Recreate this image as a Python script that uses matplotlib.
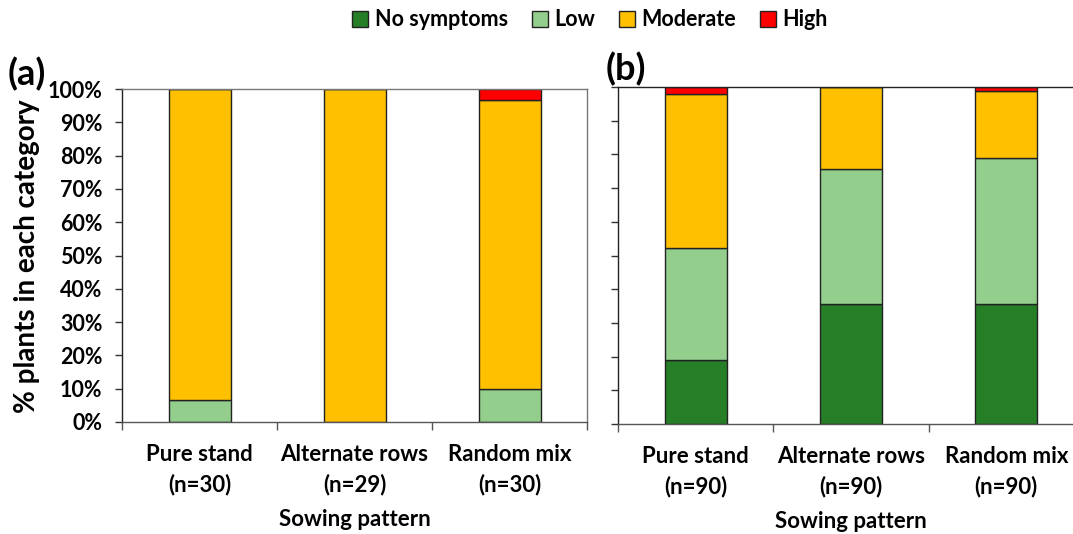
import numpy as np
import matplotlib
matplotlib.use("Agg")
import matplotlib.pyplot as plt
from matplotlib.patches import Patch

plt.rcParams['font.family'] = ['Lato', 'DejaVu Sans']
plt.rcParams['font.weight'] = 'bold'
plt.rcParams['axes.labelweight'] = 'bold'

## data (percent of plants)
categories = ["No symptoms", "Low", "Moderate", "High"]
colors = ["#267F26", "#93CE8C", "#FFC000", "#FF0000"]

labels_a = ["Pure stand\n(n=30)", "Alternate rows\n(n=29)", "Random mix\n(n=30)"]
no_sym_a = [0.0, 0.0, 0.0]
low_a = [6.7, 0.0, 10.0]
mod_a = [93.3, 100.0, 86.7]
high_a = [0.0, 0.0, 3.3]

labels_b = ["Pure stand\n(n=90)", "Alternate rows\n(n=90)", "Random mix\n(n=90)"]
no_sym_b = [18.9, 35.6, 35.6]
low_b = [33.3, 40.0, 43.3]
mod_b = [45.6, 24.4, 20.0]
high_b = [2.2, 0.0, 1.1]

W, H = 1073, 534
fig = plt.figure(figsize=(W / 100, H / 100), dpi=100)

ax_a = fig.add_axes([122 / W, (H - 422) / H, 465 / W, 333 / H])
ax_b = fig.add_axes([618 / W, (H - 424) / H, 466 / W, 337 / H])


def draw_panel(ax, labels, series, show_yticks):
    x = np.arange(len(labels))
    bottom = np.zeros(len(labels))
    for vals, c in zip(series, colors):
        vals = np.array(vals)
        ax.bar(x, vals, 0.4, bottom=bottom, color=c, edgecolor="#222222", linewidth=1.0)
        bottom += vals
    ax.set_xlim(-0.5, len(labels) - 0.5)
    ax.set_ylim(0, 100)
    ax.set_xticks(x)
    ax.set_xticklabels(labels, fontsize=16, linespacing=1.45)
    ax.tick_params(axis='x', which='major', length=0, pad=16)
    ax.set_xticks(np.arange(-0.5, len(labels)), minor=True)
    ax.tick_params(axis='x', which='minor', length=6, width=1, color="#555555")
    ax.set_yticks(np.arange(0, 101, 10))
    ax.tick_params(axis='y', length=5, width=1, color="#333333", pad=9)
    if show_yticks:
        ax.set_yticklabels([f"{v}%" for v in range(0, 101, 10)], fontsize=15.5)
    else:
        ax.set_yticklabels([])
    for s in ax.spines.values():
        s.set_color("#777777")
        s.set_linewidth(1)
    ax.spines['left'].set_color("#222222")
    ax.spines['bottom'].set_color("#555555")
    ax.set_xlabel("Sowing pattern", fontsize=16, labelpad=10)


draw_panel(ax_a, labels_a, [no_sym_a, low_a, mod_a, high_a], True)
draw_panel(ax_b, labels_b, [no_sym_b, low_b, mod_b, high_b], False)
ax_b.spines['top'].set_color("#222222")

fig.text(27 / W, 1 - 256 / H, "% plants in each category", fontsize=20,
         rotation=90, va='center', ha='center')

fig.text(8 / W, 1 - 74 / H, "(a)", fontsize=26, va='center', ha='left')
fig.text(606 / W, 1 - 69 / H, "(b)", fontsize=26, va='center', ha='left')

handles = [Patch(facecolor=c, edgecolor="#222222", linewidth=1) for c in colors]
fig.legend(handles, categories, loc='center', bbox_to_anchor=(590 / W, 1 - 20 / H),
           ncol=4, frameon=False, fontsize=15.5, handlelength=0.75, handleheight=0.75,
           handletextpad=0.3, columnspacing=1.1)

fig.savefig("out.png", dpi=100)
